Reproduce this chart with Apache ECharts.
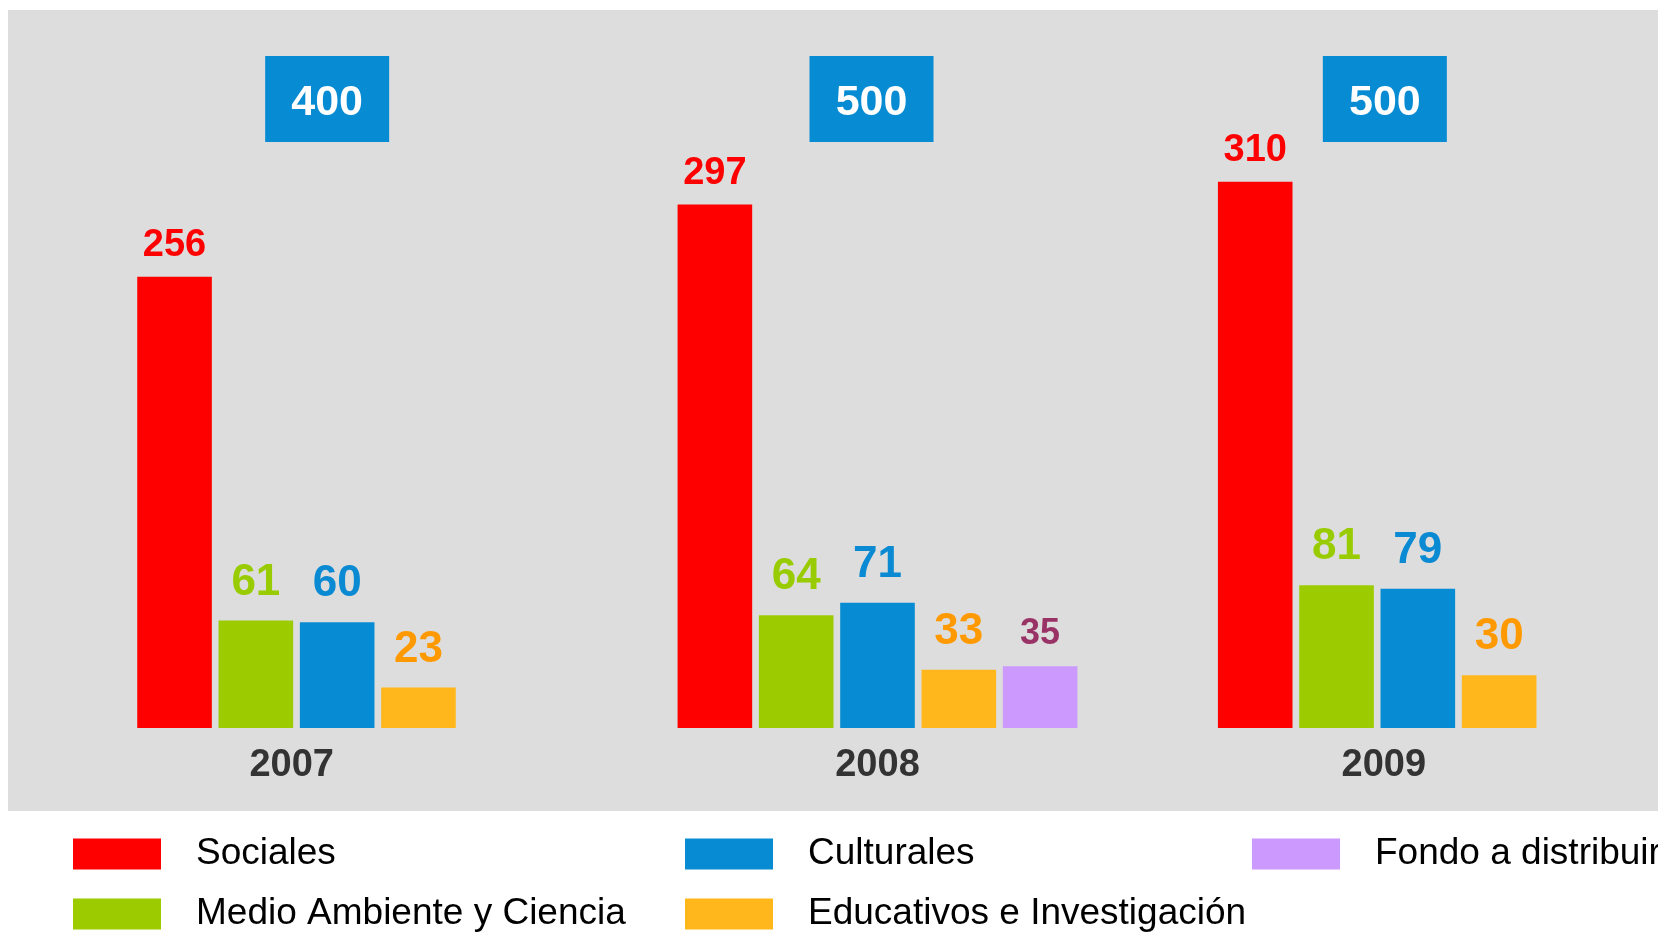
<!DOCTYPE html>
<html lang="es">
<head>
<meta charset="UTF-8">
<title>Fondos por año</title>
<script src="https://cdn.jsdelivr.net/npm/echarts@6/dist/echarts.min.js"></script>
<style>
  html, body { margin: 0; padding: 0; background: #fff; overflow: hidden; }
  #main { width: 1658px; height: 933px; }
</style>
</head>
<body>
<div id="main"></div>
<script>
// datos
var years = ['2007', '2008', '2009'];
var totals = [400, 500, 500];
var sociales = [256, 297, 310];
var medioAmbiente = [61, 64, 81];
var culturales = [60, 71, 79];
var educativos = [23, 33, 30];
var fondo = [null, 35, null];

// desplazamientos de las etiquetas (px, solo maquetación)
var yearShift = [91, 0, 68];
var boxShift = [20, 12, 66];

var font = "'Liberation Sans', Arial, sans-serif";

function barSeries(name, data, color, labelColor, labelSize, dist) {
    return {
        name: name,
        type: 'bar',
        data: data,
        itemStyle: { color: color },
        label: {
            show: true,
            position: 'top',
            distance: dist,
            color: labelColor,
            fontSize: labelSize,
            fontWeight: 'bold',
            fontFamily: font
        }
    };
}

// una leyenda por elemento para tener columnas fijas
function legendItem(name, left, top) {
    return {
        left: left,
        top: top,
        padding: 0,
        icon: 'rect',
        itemWidth: 88,
        itemHeight: 31,
        data: [name],
        textStyle: { fontSize: 37, color: '#000', fontFamily: font, lineHeight: 40, padding: [0, 0, 0, 30] }
    };
}

var myChart = echarts.init(document.getElementById('main'));
var option = {
    backgroundColor: '#ffffff',
    animation: false,
    graphic: [{
        type: 'rect',
        z: -10,
        silent: true,
        shape: { x: 8, y: 10, width: 1700, height: 801 },
        style: { fill: '#dddddd' }
    }],
    legend: [
        legendItem('Sociales', 73, 834),
        legendItem('Culturales', 685, 834),
        legendItem('Fondo a distribuir', 1252, 834),
        legendItem('Medio Ambiente y Ciencia', 73, 894),
        legendItem('Educativos e Investigación', 685, 894)
    ],
    // la rejilla sigue más allá del borde derecho, como en el original recortado
    grid: { left: 67, width: 1621, top: 23, bottom: 205, outerBoundsMode: 'none' },
    xAxis: [{
        type: 'category',
        data: years,
        axisLine: { show: false },
        axisTick: { show: false },
        axisLabel: {
            margin: 19,
            formatter: function (v, i) { return '{y|' + v + '}{s' + i + '| }'; },
            rich: {
                y: { fontSize: 38, fontWeight: 'bold', color: '#333', fontFamily: font, lineHeight: 38 }
            }
        }
    }, {
        type: 'category',
        data: years,
        position: 'top',
        axisLine: { show: false },
        axisTick: { show: false },
        axisLabel: {
            inside: true,
            margin: 37,
            formatter: function (v, i) {
                return '{b|' + totals[i] + '}{s' + i + '| }';
            },
            rich: {
                b: {
                    width: 124, height: 78, lineHeight: 78, align: 'center',
                    padding: [8, 0, 0, 0],
                    backgroundColor: '#078bd3', color: '#fff',
                    fontSize: 43, fontWeight: 'bold', fontFamily: font
                }
            }
        }
    }],
    yAxis: { type: 'value', min: 0, max: 400, show: false },
    series: [
        barSeries('Sociales', sociales, '#ff0000', '#ff0000', 38, 12),
        barSeries('Medio Ambiente y Ciencia', medioAmbiente, '#9ccc00', '#99cc00', 44, 16),
        barSeries('Culturales', culturales, '#078bd3', '#0a8ad2', 44, 16),
        barSeries('Educativos e Investigación', educativos, '#ffb71b', '#ff9900', 44, 16),
        barSeries('Fondo a distribuir', fondo, '#cc99ff', '#993366', 36, 14)
    ]
};
option.series[0].barGap = '9%';
option.series[0].barCategoryGap = '26%';

// huecos que desplazan las etiquetas hacia la izquierda
years.forEach(function (y, i) {
    option.xAxis[0].axisLabel.rich['s' + i] = { width: yearShift[i], fontSize: 10 };
    option.xAxis[1].axisLabel.rich['s' + i] = { width: boxShift[i], fontSize: 10 };
});

myChart.setOption(option);
</script>
</body>
</html>
